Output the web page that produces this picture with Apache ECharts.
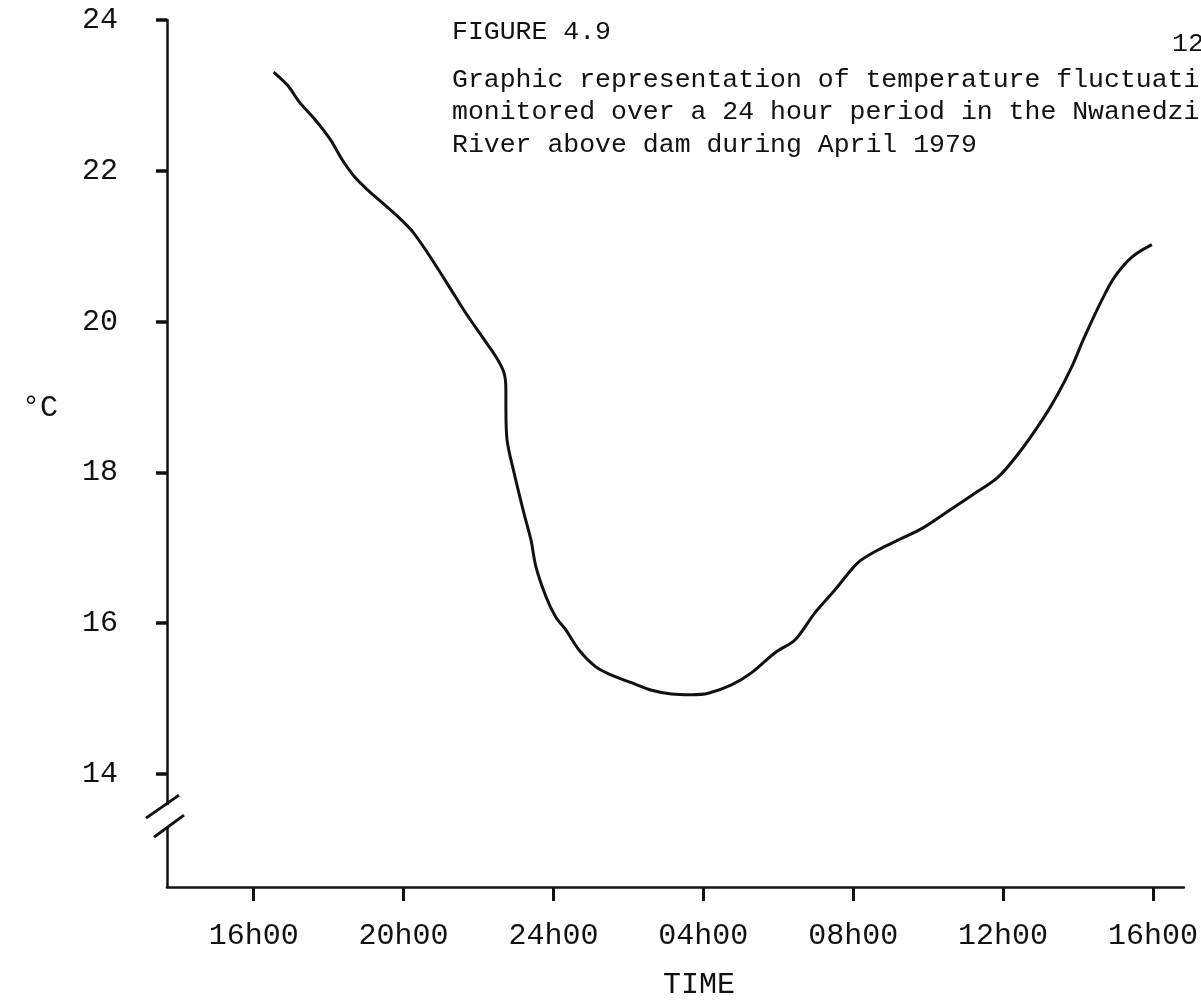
<!DOCTYPE html>
<html>
<head>
<meta charset="utf-8">
<script src="https://cdn.jsdelivr.net/npm/echarts@6/dist/echarts.min.js"></script>
<style>
html,body{margin:0;padding:0;background:#fff;}
#chart{width:1201px;height:1003px;}
</style>
</head>
<body>
<div id="chart"></div>
<script>
// Hours since midnight of day 1 (24 = midnight, 28 = 04h00 next day, ...)
var hours = [16.53,16.91,17.22,17.65,18.05,18.37,18.69,19.03,19.35,19.83,20.26,20.76,21.27,21.69,22.15,22.47,22.68,22.73,22.73,22.76,22.95,23.21,23.40,23.53,23.80,24.06,24.33,24.67,25.13,25.55,26.08,26.62,27.15,27.68,28.13,28.75,29.28,29.92,30.45,30.98,31.51,32.12,32.66,33.19,33.85,34.52,35.18,35.85,36.38,37.05,37.45,37.85,38.14,38.64,38.96,39.45,39.97];
var temps = [23.31,23.13,22.91,22.67,22.41,22.14,21.92,21.75,21.61,21.40,21.18,20.82,20.42,20.09,19.76,19.53,19.32,19.09,18.87,18.43,17.99,17.46,17.10,16.75,16.35,16.08,15.91,15.65,15.42,15.31,15.21,15.11,15.06,15.05,15.07,15.18,15.34,15.61,15.78,16.14,16.44,16.80,16.97,17.10,17.26,17.48,17.70,17.93,18.23,18.70,19.03,19.42,19.76,20.29,20.58,20.86,21.02];
var xTickHours = [16,20,24,28,32,36,40];
var xTickLabels = ['16h00','20h00','24h00','04h00','08h00','12h00','16h00'];
var yTicks = [14,16,18,20,22,24];
var captionLines = ['Graphic representation of temperature fluctuati','monitored over a 24 hour period in the Nwanedzi','River above dam during April 1979'];

var FONT = '"Liberation Mono", "Courier New", monospace';
var INK = '#111';
var data = hours.map(function(h,i){return [h,temps[i]];});

var chart = echarts.init(document.getElementById('chart'), null, {renderer:'canvas'});
var X_MIN = 13.685, X_MAX = 40.825, Y_MIN = 12.5, Y_MAX = 24;
chart.setOption({
  animation:false,
  backgroundColor:'#fff',
  grid:{left:167, right:14, top:20, bottom:116, containLabel:false},
  xAxis:{
    type:'value', min:X_MIN, max:X_MAX,
    axisLine:{show:true, onZero:false, lineStyle:{color:INK, width:2.5}},
    axisTick:{show:true, inside:false, length:14, lineStyle:{color:INK, width:3}, customValues:xTickHours},
    axisLabel:{show:true, margin:34, color:INK, fontFamily:FONT, fontSize:30,
      customValues:xTickHours,
      formatter:function(v){var i=xTickHours.indexOf(v);return i>=0?xTickLabels[i]:'';}},
    splitLine:{show:false}
  },
  yAxis:{
    type:'value', min:Y_MIN, max:Y_MAX,
    axisLine:{show:true, onZero:false, lineStyle:{color:INK, width:2.5}},
    axisTick:{show:true, inside:false, length:11, lineStyle:{color:INK, width:3.5}, customValues:yTicks},
    axisLabel:{show:true, margin:49, color:INK, fontFamily:FONT, fontSize:30,
      customValues:yTicks, formatter:function(v){return String(v);}},
    splitLine:{show:false}
  },
  series:[{
    type:'line', data:data, showSymbol:false, smooth:0.3,
    lineStyle:{color:INK, width:3}
  }]
});

// decorations: axis break slashes and texts
var c = chart.convertToPixel({xAxisIndex:0, yAxisIndex:0}, [X_MIN, 13.44]);
var cx = c[0], cy = c[1];
var slash = {stroke:INK, lineWidth:3};
var textStyle = function(t,x,y,size,align){
  return {type:'text', x:x, y:y, z:100, style:{text:t, fill:INK, font:size+'px '+FONT, align:align||'left', verticalAlign:'middle'}};
};
var graphics = [
  {type:'rect', z:99, shape:{x:cx-4, y:cy-11, width:8, height:22}, style:{fill:'#fff'}},
  {type:'line', z:100, shape:{x1:cx-21, y1:cy+2, x2:cx+12, y2:cy-21}, style:slash},
  {type:'line', z:100, shape:{x1:cx-13, y1:cy+21, x2:cx+17, y2:cy-1}, style:slash},
  textStyle('FIGURE 4.9', 452, 32, 26.5),
  textStyle('12', 1172, 44, 26.5),
  textStyle(captionLines[0], 452, 80, 26.5),
  textStyle(captionLines[1], 452, 112, 26.5),
  textStyle(captionLines[2], 452, 145, 26.5),
  textStyle('°C', 40, 408, 30, 'center'),
  textStyle('TIME', 699, 985, 30, 'center')
];
chart.setOption({graphic:graphics});
</script>
</body>
</html>
